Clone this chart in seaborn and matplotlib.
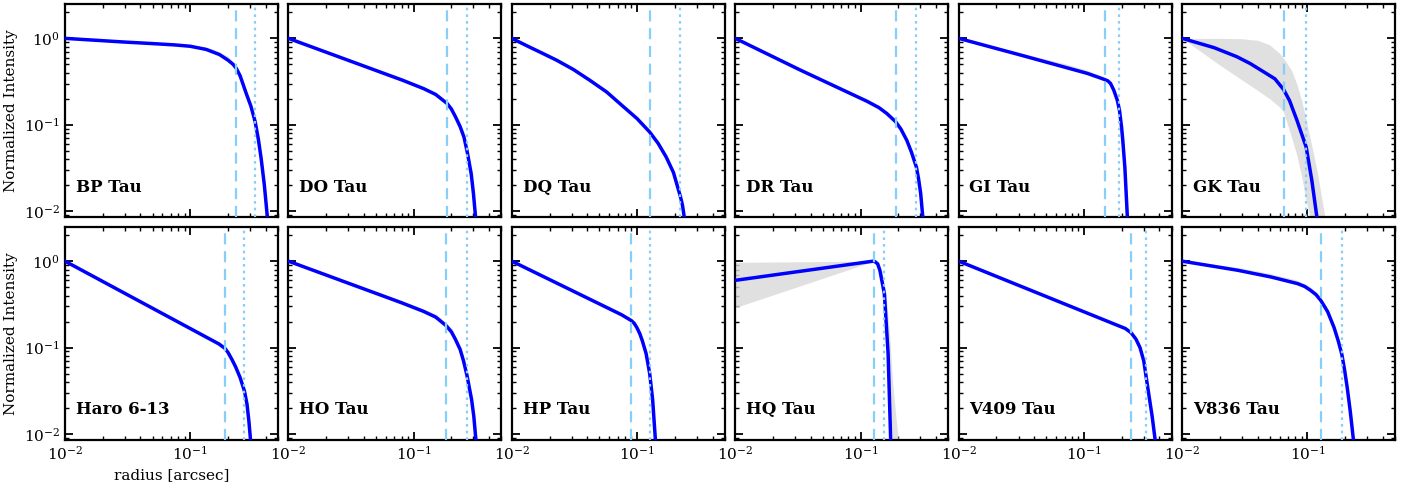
import matplotlib
matplotlib.use("Agg")
import matplotlib.pyplot as plt
import seaborn as sns
import pandas as pd

# ---- radial intensity profiles (radius in arcsec, intensity normalised) ----
SOURCES = ["BP Tau", "DO Tau", "DQ Tau", "DR Tau", "GI Tau", "GK Tau",
           "Haro 6-13", "HO Tau", "HP Tau", "HQ Tau", "V409 Tau", "V836 Tau"]

BP_R = [0.01, 0.03, 0.05, 0.075, 0.1, 0.134, 0.171, 0.2, 0.22, 0.233, 0.25, 0.28,
        0.305, 0.33, 0.35, 0.368, 0.39, 0.413]
BP_I = [1.0, 0.906, 0.87, 0.84, 0.81, 0.745, 0.65, 0.56, 0.5, 0.45, 0.37, 0.23,
        0.164, 0.108, 0.0675, 0.041, 0.0204, 0.0085]
DO_R = [0.01, 0.0813, 0.12, 0.15, 0.185, 0.2, 0.216, 0.235, 0.252, 0.268, 0.288, 0.3, 0.312]
DO_I = [1.0, 0.328, 0.262, 0.224, 0.176, 0.152, 0.123, 0.095, 0.072, 0.048, 0.027, 0.016, 0.0085]
DQ_R = [0.01, 0.0139, 0.017, 0.0227, 0.031, 0.0418, 0.057, 0.0769, 0.1, 0.1257, 0.147,
        0.1706, 0.195, 0.222, 0.23, 0.238]
DQ_I = [1.0, 0.79, 0.687, 0.56, 0.436, 0.328, 0.24, 0.164, 0.1176, 0.0826, 0.061,
        0.0423, 0.028, 0.0146, 0.0118, 0.0085]
DR_R = [0.01, 0.0331, 0.1125, 0.14, 0.162, 0.191, 0.21, 0.234, 0.255, 0.279, 0.29, 0.302, 0.314]
DR_I = [1.0, 0.429, 0.187, 0.158, 0.135, 0.108, 0.089, 0.066, 0.048, 0.0324, 0.024, 0.016, 0.0085]
GI_R = [0.01, 0.0313, 0.1064, 0.146, 0.155, 0.163, 0.173, 0.1845, 0.192, 0.1995, 0.204, 0.212, 0.222]
GI_I = [1.0, 0.64, 0.393, 0.334, 0.322, 0.30, 0.251, 0.192, 0.147, 0.094, 0.066, 0.032, 0.0085]
GK_R = [0.01, 0.018, 0.0274, 0.035, 0.0447, 0.055, 0.0645, 0.072, 0.0824, 0.0977, 0.1084, 0.119]
GK_I = [1.0, 0.78, 0.612, 0.51, 0.41, 0.34, 0.256, 0.19, 0.113, 0.0552, 0.0227, 0.0085]
HARO_R = [0.01, 0.1695, 0.189, 0.2, 0.216, 0.23, 0.25, 0.271, 0.284, 0.294, 0.303]
HARO_I = [1.0, 0.11, 0.098, 0.088, 0.072, 0.06, 0.045, 0.0313, 0.022, 0.014, 0.0085]
HO_R = [0.01, 0.08, 0.12, 0.15, 0.181, 0.2, 0.215, 0.235, 0.25, 0.266, 0.29, 0.302, 0.314]
HO_I = [1.0, 0.33, 0.262, 0.225, 0.18, 0.152, 0.125, 0.095, 0.07, 0.048, 0.025, 0.016, 0.0085]
HP_R = [0.01, 0.075, 0.09, 0.095, 0.1, 0.105, 0.11, 0.118, 0.126, 0.133, 0.14]
HP_I = [1.0, 0.24, 0.205, 0.19, 0.168, 0.145, 0.12, 0.085, 0.05, 0.025, 0.0085]
HQ_R = [0.01, 0.126, 0.13, 0.137, 0.1426, 0.155, 0.166, 0.174]
HQ_I = [0.6, 1.0, 0.99, 0.93, 0.785, 0.42, 0.084, 0.0085]
V409_R = [0.01, 0.214, 0.238, 0.26, 0.28, 0.3, 0.314, 0.33, 0.35, 0.37]
V409_I = [1.0, 0.166, 0.148, 0.125, 0.1, 0.07, 0.045, 0.028, 0.016, 0.0085]
V836_R = [0.01, 0.0277, 0.0512, 0.0833, 0.095, 0.106, 0.117, 0.128, 0.145, 0.163, 0.176,
          0.188, 0.198, 0.208, 0.22, 0.233]
V836_I = [1.0, 0.785, 0.656, 0.55, 0.51, 0.459, 0.41, 0.35, 0.26, 0.171, 0.12,
          0.084, 0.055, 0.034, 0.018, 0.0085]

PROFILES_R = [BP_R, DO_R, DQ_R, DR_R, GI_R, GK_R, HARO_R, HO_R, HP_R, HQ_R, V409_R, V836_R]
PROFILES_I = [BP_I, DO_I, DQ_I, DR_I, GI_I, GK_I, HARO_I, HO_I, HP_I, HQ_I, V409_I, V836_I]

# characteristic radii: dashed and dotted markers
R_DASHED = [0.233, 0.185, 0.1257, 0.191, 0.146, 0.0645,
            0.189, 0.181, 0.090, 0.128, 0.238, 0.128]
R_DOTTED = [0.33, 0.268, 0.222, 0.279, 0.192, 0.0977,
            0.271, 0.266, 0.126, 0.155, 0.314, 0.188]

# spread of posterior draws (lower / upper envelopes)
GK_BAND_R = [0.01, 0.02, 0.03, 0.04, 0.05, 0.06, 0.0645, 0.075, 0.082, 0.09, 0.0977, 0.105, 0.119, 0.138]
GK_BAND_LO = [1.0, 0.49, 0.33, 0.25, 0.2, 0.16, 0.14, 0.07, 0.045, 0.025, 0.013, 0.0085, 0.0085, 0.0085]
GK_BAND_HI = [1.0, 1.0, 0.99, 0.95, 0.84, 0.67, 0.59, 0.42, 0.30, 0.19, 0.113, 0.07, 0.03, 0.0085]
HQ_BAND_R = [0.01, 0.12, 0.13, 0.14, 0.15, 0.16, 0.17, 0.18, 0.2]
HQ_BAND_LO = [0.29, 0.97, 0.95, 0.75, 0.35, 0.12, 0.03, 0.0085, 0.0085]
HQ_BAND_HI = [0.97, 1.0, 1.0, 0.95, 0.7, 0.4, 0.15, 0.04, 0.0085]
BP_BAND_R = [0.05, 0.1, 0.15, 0.2, 0.24]
BP_BAND_LO = [0.87, 0.81, 0.71, 0.56, 0.42]
BP_BAND_HI = [0.89, 0.845, 0.76, 0.62, 0.45]
GI_BAND_R = [0.02, 0.04, 0.07, 0.1, 0.13, 0.15, 0.165]
GI_BAND_LO = [0.76, 0.58, 0.47, 0.405, 0.35, 0.325, 0.29]
GI_BAND_HI = [0.79, 0.62, 0.51, 0.44, 0.38, 0.34, 0.30]
HO_BAND_R = [0.05, 0.1, 0.15, 0.2, 0.23]
HO_BAND_LO = [0.43, 0.29, 0.225, 0.152, 0.1]
HO_BAND_HI = [0.45, 0.31, 0.245, 0.17, 0.11]
V836_BAND_R = [0.015, 0.03, 0.05, 0.08, 0.1, 0.12, 0.14]
V836_BAND_LO = [0.93, 0.77, 0.66, 0.56, 0.48, 0.39, 0.29]
V836_BAND_HI = [0.95, 0.83, 0.72, 0.61, 0.53, 0.43, 0.31]
BANDS = {"GK Tau": (GK_BAND_R, GK_BAND_LO, GK_BAND_HI),
         "HQ Tau": (HQ_BAND_R, HQ_BAND_LO, HQ_BAND_HI),
         "BP Tau": (BP_BAND_R, BP_BAND_LO, BP_BAND_HI),
         "GI Tau": (GI_BAND_R, GI_BAND_LO, GI_BAND_HI),
         "HO Tau": (HO_BAND_R, HO_BAND_LO, HO_BAND_HI),
         "V836 Tau": (V836_BAND_R, V836_BAND_LO, V836_BAND_HI)}

XLIM = (0.01, 0.5)
YLIM = (0.0085, 2.5)

sns.set_theme(style="ticks")
plt.rcParams.update({
    "font.family": ["DejaVu Serif"],
    "mathtext.fontset": "dejavuserif",
    "text.color": "black",
    "axes.labelcolor": "black",
    "axes.linewidth": 1.6,
    "axes.edgecolor": "black",
    "xtick.direction": "in",
    "ytick.direction": "in",
    "xtick.top": True,
    "ytick.right": True,
    "xtick.major.size": 6,
    "ytick.major.size": 6,
    "xtick.minor.size": 3,
    "ytick.minor.size": 3,
    "xtick.major.width": 1.3,
    "ytick.major.width": 1.3,
    "xtick.minor.width": 1.0,
    "ytick.minor.width": 1.0,
    "xtick.minor.visible": True,
    "ytick.minor.visible": True,
    "xtick.labelsize": 11,
    "ytick.labelsize": 11,
    "xtick.color": "black",
    "ytick.color": "black",
})

fig, axes = plt.subplots(2, 6, figsize=(14.22, 4.87), dpi=100,
                         sharex=True, sharey=True)
fig.subplots_adjust(left=0.0457, right=0.981, top=0.9918, bottom=0.0965,
                    wspace=0.05, hspace=0.045)

for k, (ax, name) in enumerate(zip(axes.flat, SOURCES)):
    ax.set_xscale("log")
    ax.set_yscale("log")
    if name in BANDS:
        br, blo, bhi = BANDS[name]
        ax.fill_between(br, blo, bhi, color="#d9d9d9", alpha=0.8, lw=0, zorder=1)
    df = pd.DataFrame({"r": PROFILES_R[k], "I": PROFILES_I[k]})
    sns.lineplot(data=df, x="r", y="I", ax=ax, color="blue", lw=2.5,
                 zorder=3, sort=True, estimator=None)
    ax.axvline(R_DASHED[k], color="lightskyblue", ls=(0, (5, 3)), lw=1.6, zorder=4)
    ax.axvline(R_DOTTED[k], color="lightskyblue", ls=(0, (1.2, 1.8)), lw=1.6, zorder=4)
    ax.text(0.05, 0.12, name, transform=ax.transAxes, fontsize=12,
            fontweight="bold", va="baseline", ha="left", color="black")
    ax.set_xlim(*XLIM)
    ax.set_ylim(*YLIM)
    ax.set_xlabel("")
    ax.set_ylabel("")
    ax.tick_params(which="both", top=True, right=True)

for ax in axes[:, 0]:
    ax.set_ylabel("Normalized Intensity", fontsize=11)
axes[1, 0].set_xlabel("radius [arcsec]", fontsize=11)

fig.savefig("out.png", dpi=100)
